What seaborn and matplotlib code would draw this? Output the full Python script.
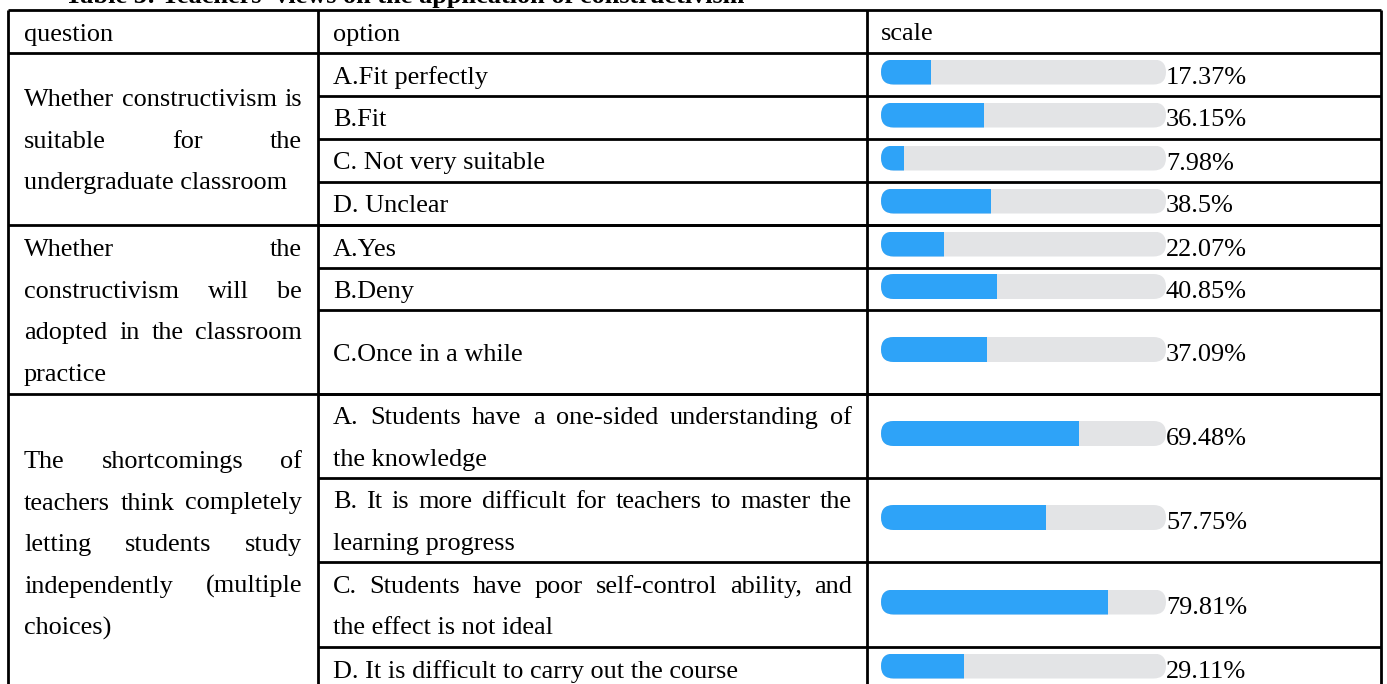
import matplotlib
matplotlib.use("Agg")
import matplotlib.pyplot as plt
from matplotlib.patches import FancyBboxPatch
import seaborn as sns
import pandas as pd

plt.rcParams["font.family"] = ["Liberation Serif", "DejaVu Serif"]

# ---- data ----
TITLE = "Table 3: Teachers' views on the application of constructivism"
headers = ["question", "option", "scale"]

questions = [
    ["Whether constructivism is", "suitable for the", "undergraduate classroom"],
    ["Whether the", "constructivism will be", "adopted in the classroom", "practice"],
    ["The shortcomings of", "teachers think completely", "letting students study",
     "independently (multiple", "choices)"],
]
group_sizes = [4, 3, 4]

options = [
    ["A.Fit perfectly"],
    ["B.Fit"],
    ["C. Not very suitable"],
    ["D. Unclear"],
    ["A.Yes"],
    ["B.Deny"],
    ["C.Once in a while"],
    ["A. Students have a one-sided understanding of", "the knowledge"],
    ["B. It is more difficult for teachers to master the", "learning progress"],
    ["C. Students have poor self-control ability, and", "the effect is not ideal"],
    ["D. It is difficult to carry out the course"],
]
shares = [17.37, 36.15, 7.98, 38.5, 22.07, 40.85, 37.09, 69.48, 57.75, 79.81, 29.11]

# ---- layout (pixels) ----
W, H = 1387, 684
row_edges = [10, 53, 96, 139, 182, 225, 268, 310, 394, 478, 562, 647, 690]
col_x = [8, 318, 867, 1381]
FS = 18.9
LINE = 41.5
DY = 3  # text sits a bit below the cell middle
BLUE = "#2ea3f8"
TRACK = "#e3e4e6"
BAR_X0, BAR_W, BAR_H = 881, 285, 25

fig = plt.figure(figsize=(W / 100, H / 100), dpi=100)
ax = fig.add_axes([0, 0, 1, 1])
ax.set_xlim(0, W)
ax.set_ylim(H, 0)
ax.axis("off")
renderer = fig.canvas.get_renderer()


def put_lines(lines, x0, x1, yc):
    # justified paragraph, last line left aligned
    n = len(lines)
    for i, line in enumerate(lines):
        y = yc + DY + (i - (n - 1) / 2) * LINE
        words = line.split()
        if i == n - 1 or len(words) == 1:
            ax.text(x0, y, line, fontsize=FS, va="center", ha="left")
            continue
        arts = [ax.text(0, y, w, fontsize=FS, va="center", ha="left") for w in words]
        widths = [a.get_window_extent(renderer).width for a in arts]
        gap = (x1 - x0 - sum(widths)) / (len(words) - 1)
        x = x0
        for a, w in zip(arts, widths):
            a.set_x(x)
            x += w + gap


# title (cut off at the top like the source)
ax.text(65, 3, TITLE, fontsize=FS, fontweight="bold", va="baseline", ha="left")

# grid lines
lw = 2.0
ax.vlines(col_x, row_edges[0], H + 10, color="black", lw=lw)
ax.hlines(row_edges[:2], col_x[0], col_x[-1], color="black", lw=lw)
idx = 1
group_edges = []
for g in group_sizes:
    top = row_edges[idx]
    idx += g
    group_edges.append((top, row_edges[idx]))
for top, bot in group_edges:
    ax.hlines(bot, col_x[0], col_x[-1], color="black", lw=lw)
ax.hlines(row_edges[2:-1], col_x[1], col_x[-1], color="black", lw=lw)

# header
hy = (row_edges[0] + row_edges[1]) / 2 + DY
for h, x in zip(headers, [24, 333, 881]):
    ax.text(x, hy, h, fontsize=FS, va="center", ha="left")

# question cells
for q, (top, bot) in zip(questions, group_edges):
    put_lines(q, 24, 302, (top + bot) / 2)

# option cells + bars
row_mid = [(a + b) / 2 for a, b in zip(row_edges[1:-1], row_edges[2:])]
for i, (opt, val, yc) in enumerate(zip(options, shares, row_mid)):
    put_lines(opt, 333, 852, yc)

    by = yc - 2.5
    bax = fig.add_axes([BAR_X0 / W, 1 - (by + BAR_H / 2) / H, BAR_W / W, BAR_H / H])
    df = pd.DataFrame({"row": ["r"], "share": [val], "full": [100.0]})
    sns.barplot(data=df, x="full", y="row", orient="y", color=TRACK,
                width=1, saturation=1, ax=bax)
    sns.barplot(data=df, x="share", y="row", orient="y", color=BLUE,
                width=1, saturation=1, ax=bax)
    bax.set_xlim(0, 100)
    bax.set_ylim(0.5, -0.5)
    bax.axis("off")
    clip = FancyBboxPatch((0, 0), 1, 1,
                          boxstyle=f"round,pad=0,rounding_size={0.5 * BAR_H / BAR_W}",
                          mutation_aspect=BAR_W / BAR_H, transform=bax.transAxes)
    for p in bax.patches:
        p.set_clip_path(clip)

    ax.text(1166, yc + DY, f"{val:g}%", fontsize=FS, va="center", ha="left")

fig.savefig("out.png", dpi=100)
